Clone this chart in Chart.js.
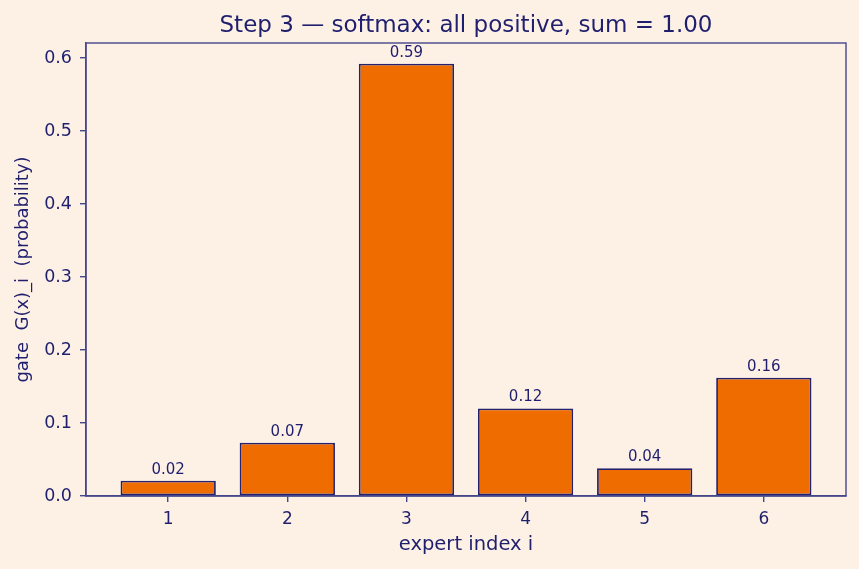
<!DOCTYPE html>
<html>
<head>
<meta charset="utf-8">
<script src="https://cdn.jsdelivr.net/npm/chart.js@4/dist/chart.umd.min.js"></script>
<style>
html,body{margin:0;padding:0;background:#fdf1e6;}
#wrap{width:859px;height:569px;}
</style>
</head>
<body>
<div id="wrap"><canvas id="c" width="859" height="569"></canvas></div>
<script>
const experts = [1, 2, 3, 4, 5, 6];
const gateValues = [0.021, 0.073, 0.592, 0.120, 0.038, 0.162];
const valueLabels = ['0.02', '0.07', '0.59', '0.12', '0.04', '0.16'];
const yTicks = [0.0, 0.1, 0.2, 0.3, 0.4, 0.5, 0.6];
const chartTitle = 'Step 3 — softmax: all positive, sum = 1.00';

const NAVY = '#1f1f6e';
const SPINE = '#46468a';
const ORANGE = '#ef6c00';
const BG = '#fdf1e6';
const FONT = "'DejaVu Sans', sans-serif";

const bgPlugin = {
  id: 'bg',
  beforeDraw(chart) {
    const ctx = chart.ctx;
    ctx.save();
    ctx.fillStyle = BG;
    ctx.fillRect(0, 0, chart.width, chart.height);
    ctx.restore();
  }
};
const framePlugin = {
  id: 'frame',
  afterDatasetsDraw(chart) {
    const a = chart.chartArea, ctx = chart.ctx;
    ctx.save();
    ctx.strokeStyle = SPINE;
    ctx.lineWidth = 1.4;
    ctx.strokeRect(a.left, a.top, a.right - a.left, a.bottom - a.top);
    // title centred over the plot area
    ctx.fillStyle = NAVY;
    ctx.font = "23px " + FONT;
    ctx.textAlign = 'center';
    ctx.textBaseline = 'alphabetic';
    ctx.fillText(chartTitle, (a.left + a.right) / 2, 31.5);
    ctx.restore();
  }
};
const labelPlugin = {
  id: 'vlabels',
  afterDatasetsDraw(chart) {
    const ctx = chart.ctx;
    const meta = chart.getDatasetMeta(0);
    ctx.save();
    ctx.fillStyle = NAVY;
    ctx.font = "15px " + FONT;
    ctx.textAlign = 'center';
    ctx.textBaseline = 'alphabetic';
    meta.data.forEach((el, i) => {
      ctx.fillText(valueLabels[i], el.x, el.y - 7);
    });
    ctx.restore();
  }
};

new Chart(document.getElementById('c'), {
  type: 'bar',
  data: {
    datasets: [{
      data: experts.map((e, i) => ({x: e, y: gateValues[i]})),
      backgroundColor: ORANGE,
      borderColor: '#24226e',
      borderWidth: 1.8,
      borderSkipped: false,
      barPercentage: 0.8,
      categoryPercentage: 1.0
    }]
  },
  options: {
    responsive: false,
    animation: false,
    layout: {padding: {left: 0, right: 13, top: 43, bottom: 0}},
    plugins: {
      legend: {display: false},
      tooltip: {enabled: false},
      title: {display: false}
    },
    scales: {
      x: {
        type: 'linear',
        offset: false,
        min: 0.31,
        max: 6.69,
        afterBuildTicks(axis) { axis.ticks = experts.map(v => ({value: v})); },
        afterFit(axis) { axis.height = 73; },
        ticks: {
          color: NAVY,
          font: {family: FONT, size: 17},
          padding: 7,
          maxRotation: 0,
          callback: v => String(v)
        },
        grid: {display: true, offset: false, drawOnChartArea: false, drawTicks: true, tickLength: 6, color: SPINE, lineWidth: 1.4},
        border: {display: true, color: SPINE, width: 1.4},
        title: {
          display: true,
          text: 'expert index i',
          color: NAVY,
          font: {family: FONT, size: 19.5},
          padding: {top: 0, bottom: 12}
        }
      },
      y: {
        type: 'linear',
        min: 0,
        max: 0.6205,
        afterBuildTicks(axis) { axis.ticks = yTicks.map(v => ({value: v})); },
        afterFit(axis) { axis.width = 86; },
        ticks: {
          color: NAVY,
          font: {family: FONT, size: 17.5},
          padding: 8,
          callback: v => v.toFixed(1)
        },
        grid: {display: true, drawOnChartArea: false, drawTicks: true, tickLength: 6, color: SPINE, lineWidth: 1.4},
        border: {display: true, color: SPINE, width: 1.4},
        title: {
          display: true,
          text: 'gate  G(x)_i  (probability)',
          color: NAVY,
          font: {family: FONT, size: 18},
          padding: {top: 13, bottom: 0}
        }
      }
    }
  },
  plugins: [bgPlugin, framePlugin, labelPlugin]
});
</script>
</body>
</html>
